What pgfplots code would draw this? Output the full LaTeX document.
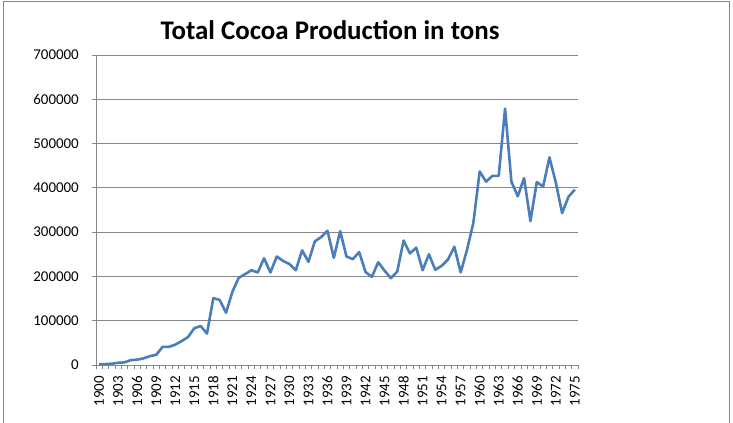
\documentclass[border=0pt]{standalone}
\usepackage{pgfplots}
\pgfplotsset{compat=1.18}
\usepackage{fontspec}
\setmainfont{Carlito}
\definecolor{exblue}{RGB}{74,126,187}
\definecolor{exgrid}{RGB}{134,134,134}
\begin{document}
\begin{tikzpicture}
\path[use as bounding box] (0,0) rectangle (733bp,423bp);
\draw[exgrid, line width=1bp] (3bp,-2bp) -- (3bp,421bp) -- (729bp,421bp) -- (729bp,-2bp);
\begin{axis}[
  at={(96bp,58bp)}, anchor=south west,
  scale only axis, width=482bp, height=310bp,
  xmin=1899.5, xmax=1975.5,
  ymin=0, ymax=700000,
  xtick={1900,1903,...,1975},
  minor xtick={1899.5,1900.5,...,1975.5},
  ytick={0,100000,...,700000},
  scaled y ticks=false,
  /pgf/number format/assume math mode=true,
  xticklabel={\pgfmathprintnumber[fixed,precision=0,1000 sep={},assume math mode=true]{\tick}},
  yticklabel={\pgfmathprintnumber[fixed,precision=0,1000 sep={},assume math mode=true]{\tick}},
  axis lines*=left,
  axis line style={exgrid, line width=0.8bp},
  ymajorgrids, grid style={exgrid, line width=0.8bp},
  tick align=outside,
  major tick length=4bp, minor tick length=4bp,
  tick style={exgrid, line width=0.8bp},
  every major x tick/.append style={draw=none},
  ticklabel style={font=\fontsize{15}{15}\selectfont, text=black},
  xticklabel style={rotate=90, anchor=east, inner xsep=7bp, inner ysep=0pt},
  yticklabel style={inner sep=0pt, xshift=-13bp},
  clip=false,
]
\addplot[exblue, line width=2.6bp, line join=round] coordinates {
(1900,2000) (1901,2000) (1902,3000) (1903,5000) (1904,6000) (1905,11000)
(1906,12000) (1907,15000) (1908,20000) (1909,23000) (1910,41000) (1911,41000)
(1912,46000) (1913,54000) (1914,63000) (1915,83000) (1916,88000) (1917,71000)
(1918,151000) (1919,147000) (1920,118000) (1921,165000) (1922,197000) (1923,205000)
(1924,214000) (1925,209000) (1926,241000) (1927,209000) (1928,245000) (1929,235000)
(1930,228000) (1931,214000) (1932,259000) (1933,233000) (1934,279000) (1935,289000)
(1936,303000) (1937,242000) (1938,302000) (1939,245000) (1940,239000) (1941,255000)
(1942,210000) (1943,199000) (1944,232000) (1945,213000) (1946,196000) (1947,211000)
(1948,281000) (1949,252000) (1950,265000) (1951,214000) (1952,250000) (1953,215000)
(1954,224000) (1955,238000) (1956,267000) (1957,209000) (1958,260000) (1959,321000)
(1960,437000) (1961,414000) (1962,427000) (1963,427000) (1964,579000) (1965,414000)
(1966,381000) (1967,422000) (1968,325000) (1969,413000) (1970,403000) (1971,469000)
(1972,412000) (1973,343000) (1974,380000) (1975,396000)
};
\end{axis}
\node[font=\fontsize{27}{27}\selectfont\bfseries, anchor=base] at (330bp,383bp) {Total Cocoa Production in tons};
\end{tikzpicture}
\end{document}
